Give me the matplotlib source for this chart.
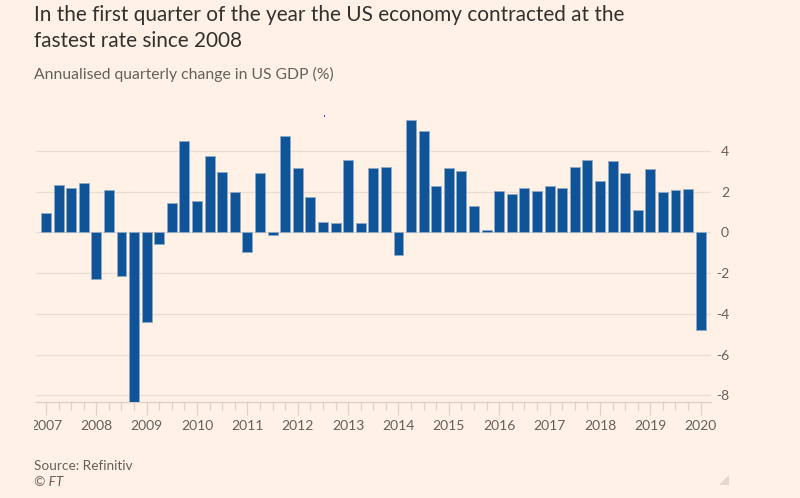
import matplotlib
matplotlib.use('Agg')
import matplotlib.pyplot as plt
from matplotlib.patches import Polygon, Rectangle
from matplotlib.transforms import Bbox, TransformedBbox

# ---- data ----
quarters = [f"{y} Q{q}" for y in range(2007, 2021) for q in range(1, 5)][:53]
gdp = [0.93, 2.30, 2.18, 2.44, -2.28, 2.07, -2.15, -8.4, -4.41, -0.57,
       1.44, 4.46, 1.54, 3.72, 2.97, 2.00, -0.95, 2.89, -0.11, 4.70,
       3.15, 1.72, 0.52, 0.44, 3.57, 0.48, 3.15, 3.21, -1.13, 5.51,
       4.95, 2.25, 3.16, 3.00, 1.31, 0.11, 2.02, 1.87, 2.16, 2.02,
       2.28, 2.15, 3.20, 3.54, 2.54, 3.49, 2.92, 1.08, 3.10, 2.00,
       2.08, 2.11, -4.80]
year_labels = [str(y) for y in range(2007, 2021)]
ytick_values = [-8, -6, -4, -2, 0, 2, 4]

title_lines = ["In the first quarter of the year the US economy contracted at the",
               "fastest rate since 2008"]
subtitle = "Annualised quarterly change in US GDP (%)"
source = "Source: Refinitiv"
credit = "\u00a9 FT"

# ---- style ----
BG = '#FFF1E5'
BAR = '#0F5499'
EDGE = '#8EABC6'
GRID = '#EADDD2'
AXIS = '#DDD0C5'
TXT = '#33302E'
GREY = '#66605C'

plt.rcParams['font.family'] = ['Lato', 'DejaVu Sans']
plt.rcParams['axes.unicode_minus'] = False

W, H = 800, 498
fig = plt.figure(figsize=(W / 100, H / 100), dpi=100, facecolor=BG)

def fy(py):
    return 1 - py / H

ylo, yhi = -8.34, 6.0
zero_px, ppu = 232.3, 20.39
top_px = zero_px - yhi * ppu
bot_px = zero_px - ylo * ppu
ax = fig.add_axes([36 / W, fy(bot_px), 675 / W, (bot_px - top_px) / H])
ax.set_facecolor(BG)

x = list(range(len(gdp)))
ax.bar(x, gdp, width=0.79, color=BAR, edgecolor=EDGE, linewidth=0.6, zorder=3)
ax.set_xlim(-0.79, 52.82)
ax.set_ylim(ylo, yhi)

ax.set_yticks(ytick_values)
ax.set_yticklabels([str(v) for v in ytick_values])
ax.yaxis.tick_right()
ax.yaxis.grid(True, color=GRID, linewidth=1.0, zorder=0)
ax.tick_params(axis='y', length=0, pad=13, labelsize=10, labelcolor=GREY)
for lab in ax.get_yticklabels():
    lab.set_horizontalalignment('right')

major_pos = [i for i in x if i % 4 == 0]
minor_pos = [i for i in x if i % 4 != 0]
ax.set_xticks(major_pos)
ax.set_xticklabels(year_labels)
ax.set_xticks(minor_pos, minor=True)
ax.tick_params(axis='x', which='major', length=9, width=0.9, color=AXIS,
               labelsize=10, labelcolor=GREY, pad=3.5)
ax.tick_params(axis='x', which='minor', length=6, width=0.9, color=AXIS)

for s in ['top', 'left', 'right']:
    ax.spines[s].set_visible(False)
ax.spines['bottom'].set_color(AXIS)
ax.spines['bottom'].set_linewidth(1.0)

# clip tick labels at left figure area (as in reference)
clipbox = TransformedBbox(Bbox([[34 / W, 0], [1, 1]]), fig.transFigure)
for lab in ax.get_xticklabels():
    lab.set_clip_box(clipbox)
    lab.set_clip_on(True)

# ---- texts ----
fig.text(34 / W, fy(20.7), title_lines[0], fontsize=14.95, color=TXT, va='baseline')
fig.text(34 / W, fy(46.7), title_lines[1], fontsize=14.95, color=TXT, va='baseline')
fig.text(34 / W, fy(78.5), subtitle, fontsize=11.3, color=GREY, va='baseline')
fig.text(34 / W, fy(469.5), source, fontsize=9.8, color=GREY, va='baseline')
fig.text(34 / W, fy(486), credit, fontsize=9.8, color=GREY, va='baseline', style='italic')

# small decorations seen in reference
fig.patches.append(Polygon([[729 / W, fy(475)], [729 / W, fy(485)], [719 / W, fy(485)]],
                           closed=True, transform=fig.transFigure, facecolor='#E3D9CF',
                           edgecolor='none'))
fig.patches.append(Rectangle((323.5 / W, fy(117)), 1.5 / W, 1.5 / H, transform=fig.transFigure,
                             facecolor='#3030FF', edgecolor='none'))

fig.savefig('out.png', dpi=100, facecolor=BG)
